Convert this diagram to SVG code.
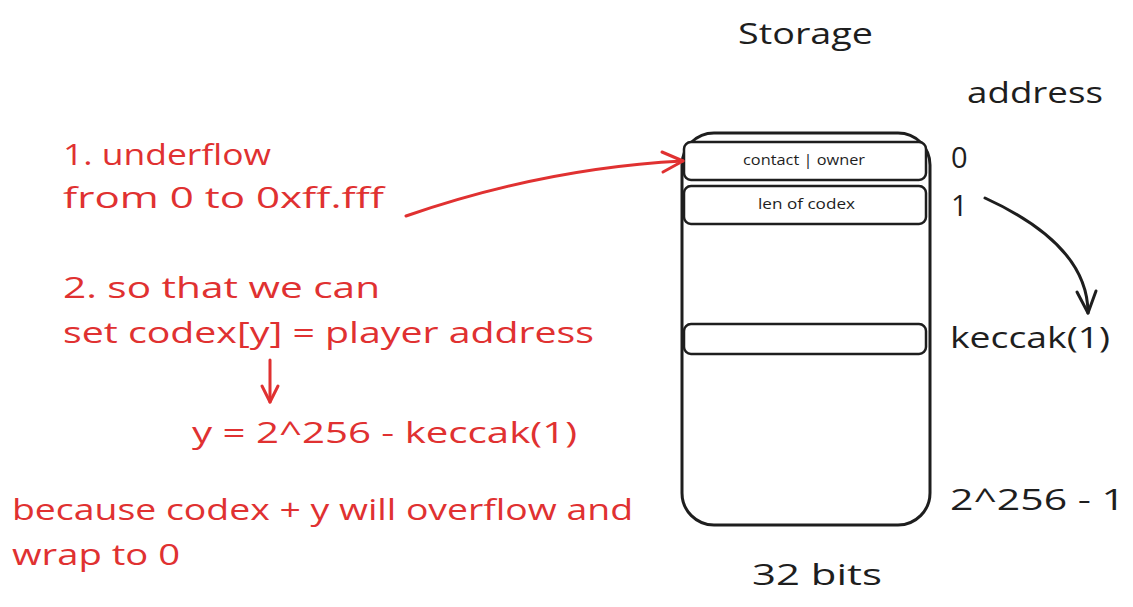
<svg xmlns="http://www.w3.org/2000/svg" width="1133" height="607" viewBox="0 0 1133 607">
<style>
.t{font-family:"Open Sans","Liberation Sans",sans-serif;font-size:29px;}
.k{fill:#1e1e1e;}
.r{fill:#e03131;}
.s{font-family:"Open Sans","Liberation Sans",sans-serif;font-size:14px;fill:#1e1e1e;}
.box{fill:#ffffff;stroke:#1e1e1e;stroke-width:3;}
.slot{fill:#ffffff;stroke:#1e1e1e;stroke-width:2.5;}
.ca{fill:none;stroke-width:3;stroke-linecap:round;stroke-linejoin:round;}
</style>
<rect width="1133" height="607" fill="#ffffff"/>
<g id="storage">
<rect class="box" x="682" y="133" width="248" height="392" rx="32"/>
</g>
<g id="slot0">
<rect class="slot" x="684" y="142" width="242" height="38" rx="7"/>
<text class="s" x="743" y="165" textLength="122" lengthAdjust="spacingAndGlyphs">contact | owner</text>
</g>
<g id="slot1">
<rect class="slot" x="684" y="186" width="242" height="38" rx="7"/>
<text class="s" x="758" y="209" textLength="97" lengthAdjust="spacingAndGlyphs">len of codex</text>
</g>
<g id="slotk">
<rect class="slot" x="684" y="324" width="242" height="30" rx="7"/>
</g>
<g id="labels">
<text class="t k" x="738" y="44" textLength="135" lengthAdjust="spacingAndGlyphs">Storage</text>
<text class="t k" x="967" y="103" textLength="136" lengthAdjust="spacingAndGlyphs">address</text>
<text class="t k" x="951" y="168" font-size="31">0</text>
<text class="t k" x="951" y="216" font-size="31">1</text>
<text class="t k" x="950" y="348" textLength="160" lengthAdjust="spacingAndGlyphs">keccak(1)</text>
<text class="t k" x="950" y="510" textLength="175" lengthAdjust="spacingAndGlyphs">2^256 - 1</text>
<text class="t k" x="752" y="585" textLength="130" lengthAdjust="spacingAndGlyphs">32 bits</text>
</g>
<g id="notes">
<text class="t r" x="63" y="165" textLength="208" lengthAdjust="spacingAndGlyphs">1. underflow</text>
<text class="t r" x="63" y="208" textLength="321" lengthAdjust="spacingAndGlyphs">from 0 to 0xff.fff</text>
<text class="t r" x="63" y="298" textLength="317" lengthAdjust="spacingAndGlyphs">2. so that we can</text>
<text class="t r" x="63" y="343" textLength="531" lengthAdjust="spacingAndGlyphs">set codex[y] = player address</text>
<text class="t r" x="192" y="443" textLength="385" lengthAdjust="spacingAndGlyphs">y = 2^256 - keccak(1)</text>
<text class="t r" x="12" y="520" textLength="621" lengthAdjust="spacingAndGlyphs">because codex + y will overflow and</text>
<text class="t r" x="12" y="565" textLength="168" lengthAdjust="spacingAndGlyphs">wrap to 0</text>
</g>
<g id="connectors">
<path class="ca" stroke="#e03131" d="M406,216 Q545,168 683,161"/>
<path class="ca" stroke="#e03131" d="M662,152 L683,161 L663,172"/>
<path class="ca" stroke="#1e1e1e" d="M985,198 Q1088,245 1088,313"/>
<path class="ca" stroke="#1e1e1e" d="M1077,292 L1088,313 L1096,291"/>
<path class="ca" stroke="#e03131" d="M270,360 L270,402"/>
<path class="ca" stroke="#e03131" d="M262,386 L270,402 L278,386"/>
</g>
</svg>
